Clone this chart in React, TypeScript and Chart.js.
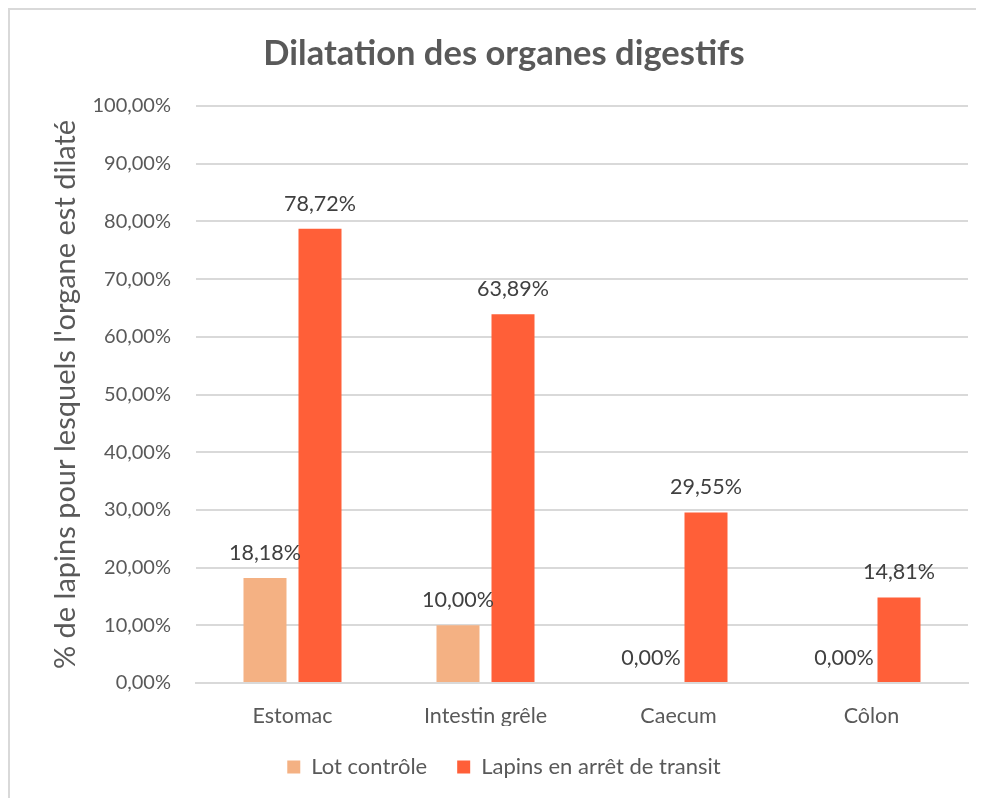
import React, { useEffect, useRef } from "react";
import { Chart, registerables } from "chart.js";

Chart.register(...registerables);

const categories = ["Estomac", "Intestin grêle", "Caecum", "Côlon"];
const lotControle = [18.18, 10.0, 0.0, 0.0];
const lapinsArret = [78.72, 63.89, 29.55, 14.81];
const seriesNames = ["Lot contrôle", "Lapins en arrêt de transit"];
const seriesColors = ["#F4B183", "#FF5F38"];
const chartTitle = "Dilatation des organes digestifs";
const yTitle = "% de lapins pour lesquels l'organe est dilaté";

const FONT = "Lato, 'Noto Sans', sans-serif";
const TEXT = "#595959";
const GRID = "#D9D9D9";

const fmt = (v: number) => v.toFixed(2).replace(".", ",") + "%";

const labelPlugin = {
  id: "valueLabels",
  afterDatasetsDraw(chart: any) {
    const ctx = chart.ctx;
    ctx.save();
    ctx.font = `21.5px ${FONT}`;
    ctx.fillStyle = "#404040";
    ctx.textAlign = "center";
    ctx.textBaseline = "middle";
    chart.data.datasets.forEach((ds: any, i: number) => {
      const meta = chart.getDatasetMeta(i);
      meta.data.forEach((el: any, j: number) => {
        ctx.fillText(fmt(ds.data[j]), el.x, el.y - 25);
      });
    });
    ctx.restore();
  },
};

export default function App() {
  const ref = useRef<HTMLCanvasElement | null>(null);
  useEffect(() => {
    document.documentElement.style.overflow = "hidden";
    const chart = new Chart(ref.current as HTMLCanvasElement, {
      type: "bar",
      data: {
        labels: categories,
        datasets: [
          {
            label: seriesNames[0],
            data: lotControle,
            backgroundColor: seriesColors[0],
            barPercentage: 0.782,
            categoryPercentage: 0.57,
          },
          {
            label: seriesNames[1],
            data: lapinsArret,
            backgroundColor: seriesColors[1],
            barPercentage: 0.782,
            categoryPercentage: 0.57,
          },
        ],
      },
      options: {
        responsive: false,
        animation: false,
        layout: { padding: { left: 30, right: 16, top: 0, bottom: 10 } },
        plugins: {
          title: {
            display: true,
            text: chartTitle,
            color: TEXT,
            font: { family: FONT, size: 34.5, weight: "bold" },
            padding: { top: 23.5, bottom: 31.1 },
          },
          legend: {
            position: "bottom",
            labels: {
              color: TEXT,
              font: { family: FONT, size: 22 },
              boxWidth: 13,
              boxHeight: 13,
              padding: 30,
            },
          },
          tooltip: { enabled: false },
        },
        scales: {
          x: {
            grid: { display: false, drawTicks: false },
            border: { color: GRID, width: 2 },
            ticks: { color: TEXT, font: { family: FONT, size: 21.5 }, padding: 20 },
            afterFit: (s: any) => {
              s.height = 43;
            },
          },
          y: {
            min: 0,
            max: 100,
            ticks: {
              stepSize: 10,
              color: TEXT,
              font: { family: FONT, size: 20 },
              padding: 25,
              callback: (v: any) => fmt(Number(v)),
            },
            grid: { color: GRID, lineWidth: 2, drawTicks: false },
            border: { display: false },
            title: {
              display: true,
              text: yTitle,
              color: TEXT,
              font: { family: FONT, size: 29 },
              padding: { top: 8, bottom: 0 },
            },
            afterFit: (s: any) => {
              s.width = 156;
            },
          },
        },
      },
      plugins: [labelPlugin],
    } as any);
    return () => chart.destroy();
  }, []);
  return (
    <div
      style={{
        width: 976,
        height: 790,
        borderLeft: "2px solid #D9D9D9",
        borderTop: "2px solid #D9D9D9",
        boxSizing: "border-box",
        background: "#fff",
        overflow: "hidden",
      }}
    >
      <canvas ref={ref} width={974} height={788} style={{ display: "block" }} />
    </div>
  );
}
